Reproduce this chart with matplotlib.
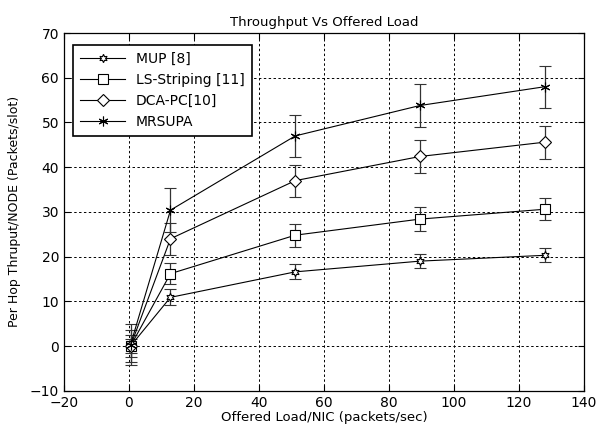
"""
Throughput vs offered load, per-hop thruput per node with error bars.
"""

import matplotlib.pyplot as plt

# data
load = [0.5, 12.8, 51.2, 89.6, 128]

mup = [0.0, 10.9, 16.6, 19.0, 20.3]
mup_err = [1.5, 1.8, 1.7, 1.6, 1.6]

ls_striping = [0.0, 16.2, 24.8, 28.4, 30.6]
ls_err = [2.5, 2.4, 2.6, 2.7, 2.5]

dca_pc = [0.0, 24.0, 37.0, 42.4, 45.6]
dca_err = [3.5, 3.6, 3.6, 3.7, 3.7]

mrsupa = [0.3, 30.4, 47.0, 53.8, 58.0]
mrsupa_err = [4.6, 5.0, 4.7, 4.7, 4.7]

labels = ['MUP [8]', 'LS-Striping [11]', 'DCA-PC[10]', 'MRSUPA']

plt.rcParams['font.family'] = ['DejaVu Sans']

fig = plt.figure(figsize=(5.97, 4.29), dpi=100)
ax = fig.add_axes([0.107, 0.089, 0.871, 0.834])

series = [
    (mup, mup_err, (6, 1, 0), 6),
    (ls_striping, ls_err, 's', 7),
    (dca_pc, dca_err, 'D', 6),
    (mrsupa, mrsupa_err, (6, 2, 0), 7),
]

for (vals, err, mk, ms), lab in zip(series, labels):
    ax.errorbar(load, vals, yerr=err, color='black', linewidth=0.8,
                marker=mk, markersize=ms, markerfacecolor='white',
                markeredgecolor='black', markeredgewidth=0.8,
                ecolor='#333333', elinewidth=0.9, capsize=4, capthick=0.9,
                label=lab, zorder=3)

ax.set_xlim(-20, 140)
ax.set_ylim(-10, 70)
ax.set_xticks(range(-20, 141, 20))
ax.set_yticks(range(-10, 71, 10))

ax.grid(True, color='black', linestyle=(0, (2.5, 2.5)), linewidth=0.7)
ax.tick_params(direction='in', labelsize=10, top=True, right=True, length=4)
for spine in ax.spines.values():
    spine.set_linewidth(0.9)

ax.set_title('Throughput Vs Offered Load', fontsize=9.5, pad=5)
ax.set_xlabel('Offered Load/NIC (packets/sec)', fontsize=9.5, labelpad=1)
ax.set_ylabel('Per Hop Thruput/NODE (Packets/slot)', fontsize=9, labelpad=6)

# legend shows line + marker only, no error bars
handles, labs = ax.get_legend_handles_labels()
handles = [h[0] for h in handles]
leg = ax.legend(handles, labs, loc='upper left', fontsize=10, fancybox=False,
                framealpha=1, edgecolor='black', borderpad=0.5,
                handlelength=3.2, bbox_to_anchor=(0.005, 0.985))
leg.get_frame().set_linewidth(1.2)

fig.savefig('out.png', dpi=100)
